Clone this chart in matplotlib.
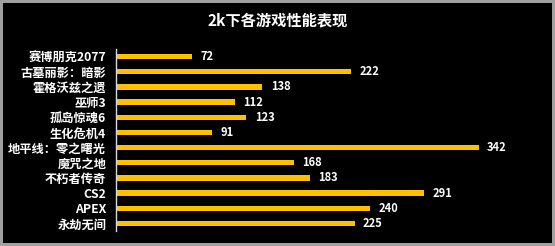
import matplotlib
matplotlib.use("Agg")
import matplotlib.pyplot as plt

plt.rcParams['font.family'] = ['Noto Sans CJK SC', 'DejaVu Sans']

games = ["赛博朋克2077", "古墓丽影：暗影", "霍格沃兹之遗", "巫师3", "孤岛惊魂6", "生化危机4",
         "地平线：零之曙光", "魔咒之地", "不朽者传奇", "CS2", "APEX", "永劫无间"]
fps = [72, 222, 138, 112, 123, 91, 342, 168, 183, 291, 240, 225]
title = "2k下各游戏性能表现"

fig = plt.figure(figsize=(5.55, 2.46), dpi=100, facecolor='black')
fig.patch.set_edgecolor('#a0a0a0')
fig.patch.set_linewidth(3)
ax = fig.add_axes([116/555, 15/246, 424/555, 182/246])
ax.set_facecolor('black')

y = list(range(len(games)))
ax.barh(y, fps, height=0.36, color='#FFC000')
ax.set_xlim(0, 400)
ax.set_ylim(len(games) - 0.5, -0.5)
ax.set_yticks(y)
ax.set_yticklabels(games, color='white', fontsize=8.8, fontweight='heavy')
ax.tick_params(axis='y', length=0, pad=7)
ax.set_xticks([])
for s in ['top', 'right', 'bottom']:
    ax.spines[s].set_visible(False)
ax.spines['left'].set_color('#d9d9d9')
ax.spines['left'].set_linewidth(1)

for yi, v in zip(y, fps):
    ax.text(v + 8, yi, str(v), color='white', fontsize=8, fontweight='heavy',
            va='center', ha='left')

fig.text(0.5, 1 - 20/246, title, color='white', fontsize=11, fontweight='heavy',
         ha='center', va='center')

fig.savefig('out.png', dpi=100, facecolor=fig.get_facecolor(), edgecolor=fig.get_edgecolor())
